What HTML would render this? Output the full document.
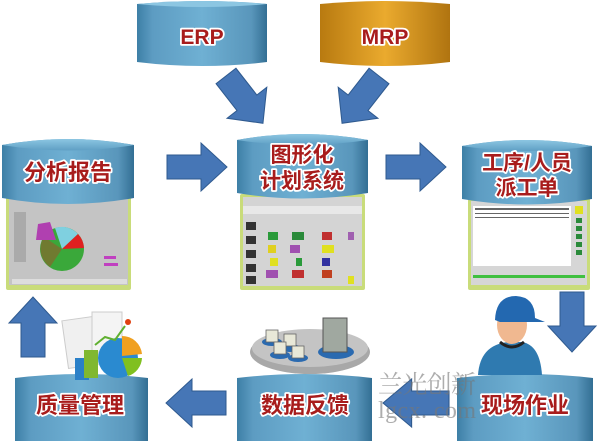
<!DOCTYPE html>
<html><head><meta charset="utf-8"><style>
html,body{margin:0;padding:0;background:#fff;width:600px;height:441px;overflow:hidden}
text{font-family:"Liberation Sans","Noto Sans CJK SC",sans-serif;font-weight:bold}
.lb{fill:#a81c1c;stroke:#fff;stroke-width:3.5;paint-order:stroke;stroke-linejoin:round}
</style></head><body>
<svg width="600" height="441" viewBox="0 0 600 441" xmlns="http://www.w3.org/2000/svg">
<defs>
<linearGradient id="bl" x1="0" x2="1" y1="0" y2="0">
<stop offset="0" stop-color="#3d7fa6"/><stop offset="0.12" stop-color="#5d9cc2"/><stop offset="0.5" stop-color="#6fb0d3"/><stop offset="0.88" stop-color="#5996bb"/><stop offset="1" stop-color="#336f94"/></linearGradient>
<linearGradient id="bt" x1="0" x2="0" y1="0" y2="1"><stop offset="0" stop-color="#8cc6e2"/><stop offset="1" stop-color="#5f9fc4"/></linearGradient>
<linearGradient id="gd" x1="0" x2="1" y1="0" y2="0">
<stop offset="0" stop-color="#b87a10"/><stop offset="0.5" stop-color="#eaaa2e"/><stop offset="1" stop-color="#b07410"/></linearGradient>
<g id="arR"><path d="M0,-12 H34 V-24 L60,0 L34,24 V12 H0 Z" fill="#4676b6" stroke="#2f5a8f" stroke-width="1"/></g>
</defs>

<!-- screenshots -->
<g>
<rect x="6" y="196" width="125" height="94" fill="#c9dc7a" rx="2"/>
<rect x="9" y="199" width="119" height="86" fill="#c4c4c4"/>
<circle cx="62" cy="249" r="22" fill="#3aa83a"/>
<path d="M62,249 L44,237 A22,22 0 0 0 50,267 Z" fill="#707a30"/>
<path d="M62,249 L55,228 A22,22 0 0 1 78,234 Z" fill="#7fd0e0"/>
<path d="M62,249 L78,234 A22,22 0 0 1 84,248 Z" fill="#e02020"/>
<path d="M38,224 L50,222 L56,240 L36,240 Z" fill="#b040b0"/>
<rect x="14" y="212" width="12" height="50" fill="#aaa"/>
<rect x="12" y="279" width="115" height="5" fill="#ddd"/>
<rect x="104" y="256" width="12" height="3" fill="#c040c0"/><rect x="104" y="263" width="14" height="3" fill="#c040c0"/>
</g>
<g>
<rect x="240" y="194" width="125" height="96" fill="#c9dc7a" rx="2"/>
<rect x="243" y="197" width="119" height="89" fill="#d4d4d4"/>
<rect x="243" y="206" width="119" height="8" fill="#e8e8e8"/>
<g fill="#333"><rect x="246" y="222" width="10" height="8"/><rect x="246" y="236" width="10" height="8"/><rect x="246" y="250" width="10" height="8"/><rect x="246" y="264" width="10" height="8"/><rect x="246" y="276" width="10" height="8"/></g>
<g><rect x="268" y="232" width="10" height="8" fill="#2a9a3a"/><rect x="292" y="232" width="12" height="8" fill="#2a8a3a"/><rect x="322" y="232" width="10" height="8" fill="#c03030"/>
<rect x="268" y="245" width="8" height="8" fill="#e0d020"/><rect x="290" y="245" width="10" height="8" fill="#a050b0"/><rect x="322" y="245" width="12" height="8" fill="#e0e020"/>
<rect x="270" y="258" width="8" height="8" fill="#e0e020"/><rect x="296" y="258" width="6" height="8" fill="#2a9a3a"/><rect x="322" y="258" width="8" height="8" fill="#3030a0"/>
<rect x="266" y="270" width="12" height="8" fill="#a050b0"/><rect x="292" y="270" width="12" height="8" fill="#c03030"/><rect x="322" y="270" width="10" height="8" fill="#c04020"/>
<rect x="348" y="276" width="6" height="8" fill="#e0e020"/><rect x="348" y="232" width="6" height="8" fill="#a060b0"/></g>
</g>
<g>
<rect x="468" y="198" width="122" height="92" fill="#c9dc7a" rx="2"/>
<rect x="471" y="201" width="116" height="84" fill="#d6d6d6"/>
<rect x="473" y="206" width="98" height="60" fill="#fff"/>
<g fill="#666"><rect x="475" y="208" width="94" height="2"/><rect x="475" y="213" width="94" height="1"/><rect x="475" y="217" width="94" height="1"/></g>
<rect x="575" y="206" width="8" height="8" fill="#e0e020"/>
<g fill="#2a8a3a"><rect x="576" y="218" width="6" height="5"/><rect x="576" y="226" width="6" height="5"/><rect x="576" y="234" width="6" height="5"/><rect x="576" y="242" width="6" height="5"/><rect x="576" y="250" width="6" height="5"/></g>
<rect x="473" y="275" width="112" height="3" fill="#40c040"/>
</g>

<!-- ERP -->
<path d="M137,4 Q202,-2 267,4 V62 Q202,70 137,62 Z" fill="url(#bl)"/>
<path d="M137,4 Q202,-2 267,4 Q202,10 137,4 Z" fill="#8cc6e2"/>
<text x="202" y="44" font-size="21" text-anchor="middle" class="lb">ERP</text>
<!-- MRP -->
<path d="M320,4 Q385,-2 450,4 V62 Q385,70 320,62 Z" fill="url(#gd)"/>
<text x="385" y="44" font-size="21" text-anchor="middle" class="lb">MRP</text>
<!-- 分析报告 -->
<path d="M2,145 Q68,133 134,145 V198 Q68,210 2,198 Z" fill="url(#bl)"/>
<path d="M2,145 Q68,133 134,145 Q68,156 2,145 Z" fill="url(#bt)"/>
<text x="68" y="180" font-size="22" text-anchor="middle" class="lb">分析报告</text>
<!-- 图形化 -->
<path d="M237,140 Q302,128 368,140 V193 Q302,204 237,193 Z" fill="url(#bl)"/>
<path d="M237,140 Q302,128 368,140 Q302,150 237,140 Z" fill="url(#bt)"/>
<text x="302" y="162" font-size="21" text-anchor="middle" class="lb">图形化</text>
<text x="302" y="188" font-size="21" text-anchor="middle" class="lb">计划系统</text>
<!-- 工序 -->
<path d="M462,146 Q527,134 592,146 V199 Q527,210 462,199 Z" fill="url(#bl)"/>
<path d="M462,146 Q527,134 592,146 Q527,156 462,146 Z" fill="url(#bt)"/>
<text x="527" y="170" font-size="21" text-anchor="middle" class="lb">工序/人员</text>
<text x="527" y="195" font-size="21" text-anchor="middle" class="lb">派工单</text>

<!-- bottom cylinders -->
<path d="M15,378 Q82,370 148,378 V441 H15 Z" fill="url(#bl)"/>
<text x="80" y="413" font-size="22" text-anchor="middle" class="lb">质量管理</text>
<path d="M237,378 Q305,370 372,378 V441 H237 Z" fill="url(#bl)"/>
<text x="305" y="413" font-size="22" text-anchor="middle" class="lb">数据反馈</text>
<path d="M457,378 Q525,370 593,378 V441 H457 Z" fill="url(#bl)"/>
<text x="525" y="413" font-size="22" text-anchor="middle" class="lb">现场作业</text>

<!-- arrows -->
<use href="#arR" transform="translate(167,167)"/>
<use href="#arR" transform="translate(386,167)"/>
<use href="#arR" transform="translate(226,403) rotate(180)"/>
<use href="#arR" transform="translate(449,403) rotate(180) scale(1.1,1)"/>
<use href="#arR" transform="translate(33,357) rotate(-90)"/>
<use href="#arR" transform="translate(572,292) rotate(90)"/>
<use href="#arR" transform="translate(226,76) rotate(52) scale(1,1.05)"/>
<use href="#arR" transform="translate(379,76) rotate(128) scale(1,1.05)"/>

<!-- quality icon -->
<rect x="65" y="318" width="38" height="48" fill="#f0f0f0" stroke="#ccc" transform="rotate(-8 84 342)"/>
<rect x="92" y="312" width="30" height="40" fill="#f4f4f4" stroke="#ccc"/>
<rect x="75" y="358" width="14" height="22" fill="#2a80c8"/>
<rect x="84" y="350" width="14" height="28" fill="#80b830"/>
<circle cx="118" cy="358" r="20" fill="#2a8ad0"/>
<path d="M122,356 V336 A20,20 0 0 1 142,354 Z" fill="#f0a020"/>
<path d="M122,358 H142 A20,20 0 0 1 128,376 Z" fill="#80c020"/>
<polyline points="95,345 105,337 115,340 125,326" fill="none" stroke="#60b030" stroke-width="2"/>
<circle cx="128" cy="322" r="3" fill="#e04010"/>

<!-- servers -->
<ellipse cx="310" cy="352" rx="60" ry="22" fill="#a8a8a8"/>
<ellipse cx="310" cy="348" rx="58" ry="19" fill="#c4c4c4"/>
<g fill="#2a6ab0"><ellipse cx="272" cy="342" rx="10" ry="4"/><ellipse cx="290" cy="348" rx="10" ry="4"/><ellipse cx="280" cy="355" rx="10" ry="4"/><ellipse cx="298" cy="358" rx="10" ry="4"/><ellipse cx="336" cy="352" rx="18" ry="7"/></g>
<g fill="#e8e8d8" stroke="#666" stroke-width="0.8"><rect x="266" y="330" width="12" height="12"/><rect x="284" y="334" width="12" height="12"/><rect x="274" y="342" width="12" height="12"/><rect x="292" y="346" width="12" height="12"/></g>
<rect x="323" y="318" width="24" height="34" fill="#a0a8a0" stroke="#555"/>

<!-- worker -->
<path d="M478,375 Q480,345 508,342 L522,342 Q540,345 542,375 Z" fill="#2f7ab0"/>
<path d="M500,342 Q512,352 524,342" fill="none" stroke="#222" stroke-width="3"/>
<ellipse cx="512" cy="325" rx="15" ry="19" fill="#f0b890"/>
<path d="M495,320 Q496,296 516,296 Q535,297 535,318 L545,322 L500,322 Z" fill="#2368b0"/>

<!-- watermark -->
<text x="378" y="393" font-size="25" fill="#777" fill-opacity="0.6" textLength="98" style="font-family:'Noto Serif CJK SC',serif;font-weight:normal">兰光创新</text>
<text x="378" y="418" font-size="24" fill="#777" fill-opacity="0.6" textLength="98" style="font-family:'Liberation Serif',serif;font-weight:normal">lgcx. com</text>
</svg>
</body></html>
